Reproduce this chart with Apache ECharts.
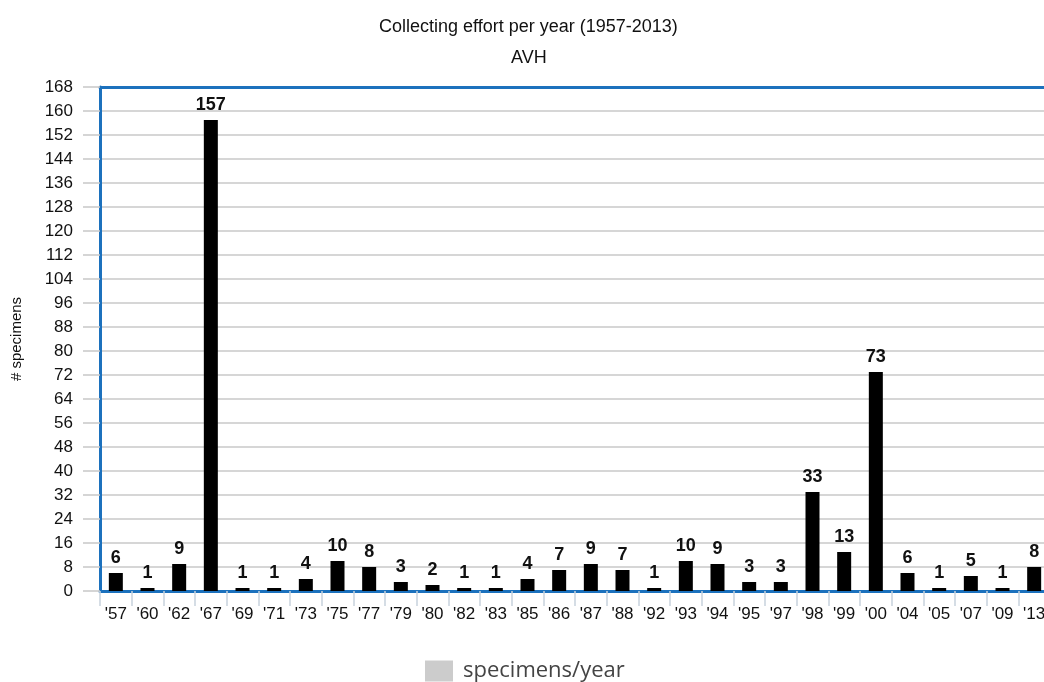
<!DOCTYPE html>
<html>
<head>
<meta charset="utf-8">
<script src="https://cdn.jsdelivr.net/npm/echarts@6/dist/echarts.min.js"></script>
<style>
  html, body { margin: 0; padding: 0; background: #fff; }
  #chart { width: 1044px; height: 682px; }
</style>
</head>
<body>
<div id="chart"></div>
<script>
var years = ["'57", "'60", "'62", "'67", "'69", "'71", "'73", "'75", "'77", "'79",
             "'80", "'82", "'83", "'85", "'86", "'87", "'88", "'92", "'93", "'94",
             "'95", "'97", "'98", "'99", "'00", "'04", "'05", "'07", "'09", "'13"];
var specimens = [6, 1, 9, 157, 1, 1, 4, 10, 8, 3,
                 2, 1, 1, 4, 7, 9, 7, 1, 10, 9,
                 3, 3, 33, 13, 73, 6, 1, 5, 1, 8];

var font = 'Liberation Sans, Arial, sans-serif';
var blue = '#1c71bd';
var myChart = echarts.init(document.getElementById('chart'));

var option = {
    animation: false,
    title: [
        { text: 'Collecting effort per year (1957-2013)', left: 374, top: 13,
          textStyle: { fontFamily: font, fontSize: 18, fontWeight: 'normal', color: '#111' } },
        { text: 'AVH', left: 506, top: 44,
          textStyle: { fontFamily: font, fontSize: 18, fontWeight: 'normal', color: '#111' } }
    ],
    legend: {
        top: 655,
        left: 420,
        itemWidth: 28,
        itemHeight: 21,
        itemGap: 10,
        textStyle: { fontFamily: 'Open Sans, sans-serif', fontSize: 22, color: '#444', padding: [0, 0, 0, 5] },
        data: [{ name: 'specimens/year', icon: 'rect', itemStyle: { color: '#cccccc' } }]
    },
    grid: {
        left: 100, top: 87, width: 950, height: 504,
        show: false,
        containLabel: false,
        outerBoundsMode: 'none'
    },
    xAxis: [{
        type: 'category',
        data: years,
        axisLine: { lineStyle: { color: blue, width: 3 } },
        axisTick: { show: true, interval: 0, length: 15, lineStyle: { color: '#c8d2dd', width: 1.5 } },
        axisLabel: { interval: 0, color: '#111', fontFamily: font, fontSize: 17, margin: 15 }
    }, {
        // top border of the plot
        type: 'category',
        position: 'top',
        data: years,
        axisLine: { lineStyle: { color: blue, width: 3 } },
        axisTick: { show: false },
        axisLabel: { show: false },
        splitLine: { show: false }
    }],
    yAxis: {
        type: 'value',
        min: 0, max: 168, interval: 8,
        name: '# specimens',
        nameLocation: 'middle',
        nameGap: 76,
        nameTextStyle: { fontFamily: font, fontSize: 15, color: '#111' },
        axisLine: { show: true, lineStyle: { color: blue, width: 3 } },
        axisTick: { show: true, length: 17, lineStyle: { color: '#c8c8c8', width: 1.5 } },
        axisLabel: { color: '#111', fontFamily: font, fontSize: 17, margin: 27 },
        splitLine: { lineStyle: { color: '#c8c8c8', width: 1.5 } }
    },
    series: [{
        name: 'specimens/year',
        type: 'bar',
        data: specimens,
        barWidth: 14,
        itemStyle: { color: '#000' },
        label: {
            show: true, position: 'top', distance: 6,
            fontFamily: font, fontSize: 18, fontWeight: 'bold', color: '#111'
        }
    }]
};
myChart.setOption(option);
</script>
</body>
</html>
